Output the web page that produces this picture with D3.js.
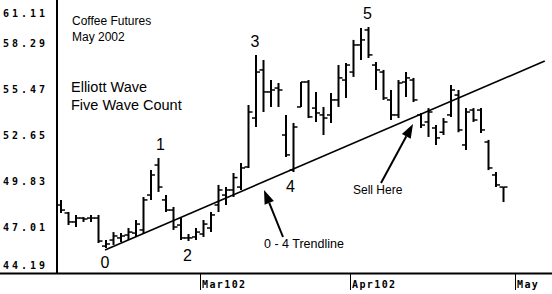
<!DOCTYPE html>
<meta charset="utf-8">
<style>
  body {
    margin: 0;
    background-color: white;
  }
  .price {
    font-family: 'DejaVu Sans Mono', monospace;
    font-weight: bold;
    font-size: 10px;
    letter-spacing: 3px;
  }
  .month {
    font-family: 'DejaVu Sans Mono', monospace;
    font-weight: bold;
    font-size: 10px;
    letter-spacing: 1.4px;
  }
  .note {
    font-family: 'Liberation Sans', Arial, sans-serif;
  }
</style>
<script src="https://cdn.jsdelivr.net/npm/d3@7"></script>
<body>
<div id="chart"></div>
<script>
  // daily bars, coffee futures (May 2002 contract), Feb 1 -> end of April 2002
  const opens = [48.39, 47.90, 47.35, 47.59, 47.59, 47.59, 45.87, 46.24, 46.37, 46.55,
                 46.67, 46.86, 49.00, 50.84, 48.70, 48.08, 47.16, 46.37, 46.43, 46.61,
                 46.98, 48.39, 49.00, 49.31, 49.49, 50.72, 53.72, 56.67, 55.32, 55.56,
                 52.68, 50.53, 54.40, 55.93, 54.33, 53.91, 53.91, 54.83, 56.05, 56.54,
                 58.20, 59.12, 56.97, 56.54, 54.83, 53.91, 55.93, 56.05, 53.91, 53.48,
                 53.11, 52.85, 53.91, 55.13, 52.07, 54.21, 54.21, 52.25, 50.23, 49.49];
  const highs = [48.70, 47.96, 47.78, 47.65, 47.78, 47.78, 46.24, 46.73, 46.67, 46.98,
                 47.47, 48.88, 50.53, 51.27, 49.00, 48.27, 47.59, 46.61, 46.98, 47.47,
                 47.96, 49.62, 49.49, 50.35, 50.96, 54.52, 57.59, 57.28, 56.05, 55.87,
                 53.91, 53.42, 55.93, 56.05, 55.32, 54.40, 55.26, 56.97, 57.09, 58.51,
                 59.24, 59.30, 57.16, 56.67, 55.44, 56.05, 56.54, 56.18, 54.03, 54.33,
                 53.29, 53.72, 55.75, 55.44, 54.33, 54.33, 54.33, 52.38, 50.41, 49.49];
  const lows = [47.90, 47.16, 47.04, 47.35, 47.35, 46.06, 45.75, 45.94, 46.12, 46.24,
                46.43, 46.67, 48.70, 49.19, 47.96, 46.86, 46.24, 46.18, 46.24, 46.43,
                46.73, 47.96, 48.39, 48.88, 49.31, 50.66, 53.17, 54.09, 54.40, 54.40,
                51.33, 50.41, 54.40, 53.72, 53.48, 52.68, 53.42, 54.40, 54.95, 56.24,
                57.28, 57.40, 55.44, 54.83, 53.60, 53.72, 55.01, 54.70, 53.11, 52.56,
                52.07, 52.68, 53.79, 52.85, 51.76, 53.48, 52.80, 50.53, 49.49, 48.57];
  const closes = [48.08, 47.35, 47.59, 47.53, 47.59, 46.18, 46.00, 46.49, 46.49, 46.73,
                  47.22, 48.70, 50.23, 49.49, 48.08, 47.04, 46.37, 46.37, 46.73, 47.22,
                  47.78, 49.31, 49.31, 50.07, 50.66, 54.09, 56.54, 55.32, 55.44, 55.44,
                  51.46, 53.17, 55.93, 53.79, 54.03, 53.72, 54.83, 56.18, 56.97, 58.20,
                  58.51, 57.59, 56.67, 54.95, 53.91, 55.87, 56.18, 54.83, 53.29, 54.09,
                  52.50, 53.48, 55.44, 52.99, 54.09, 53.60, 52.99, 50.66, 49.62, 49.49];

  const priceTicks = [44.19, 47.01, 49.83, 52.65, 55.47, 58.29, 61.11];
  const monthLabels = ["Mar102", "Apr102", "May"];
  const monthStarts = [19, 39, 61];   // bar index of first trading day of month

  const waveLabels = ["0", "1", "2", "3", "4", "5"];
  const waveBars = [6, 13, 17, 26, 31, 41];
  const waveAtLow = [true, false, true, false, true, false];

  // 0 - 4 trendline, in bar index / price
  const trendIdx = [5.87, 64.5];
  const trendPrice = [45.63, 57.22];

  var width = 552, height = 294;

  var svg = d3.select("#chart")
    .append("svg")
      .attr("width", width)
      .attr("height", height);

  var x = d3.scaleLinear().domain([0, opens.length - 1]).range([61, 503.5]);
  var y = d3.scaleLinear().domain([44.19, 61.11]).range([273.5, -2.5]);

  // axes lines
  svg.append("line")
    .attr("x1", 57).attr("x2", 57).attr("y1", 0).attr("y2", 274)
    .attr("stroke", "black").attr("stroke-width", 2);
  svg.append("line")
    .attr("x1", 0).attr("x2", width).attr("y1", 273.5).attr("y2", 273.5)
    .attr("stroke", "black").attr("stroke-width", 2);

  // price labels (top & bottom get pushed inside)
  svg.selectAll(".price")
    .data(priceTicks)
    .enter()
    .append("text")
      .attr("class", "price")
      .attr("x", 3)
      .attr("y", function(d){ return Math.min(Math.max(y(d), 13), 265); })
      .attr("dy", "0.36em")
      .text(function(d){ return d.toFixed(2); });

  // month ticks
  var months = svg.selectAll(".mtick")
    .data(monthStarts)
    .enter()
    .append("g")
      .attr("class", "mtick")
      .attr("transform", function(d){ return "translate(" + Math.round(x(d - 0.5)) + ",0)"; });
  months.append("line")
    .attr("x1", 0.5).attr("x2", 0.5).attr("y1", 274).attr("y2", 290)
    .attr("stroke", "black").attr("stroke-width", 1);
  months.append("text")
    .attr("class", "month")
    .attr("x", 2)
    .attr("y", 288)
    .text(function(d, i){ return monthLabels[i]; });

  // OHLC bars
  var bars = svg.selectAll(".bar")
    .data(opens.map(function(o, i){ return {i: i, o: o, h: highs[i], l: lows[i], c: closes[i]}; }))
    .enter()
    .append("g")
      .attr("class", "bar")
      .attr("stroke", "black");
  bars.append("line")
    .attr("x1", function(d){ return x(d.i); })
    .attr("x2", function(d){ return x(d.i); })
    .attr("y1", function(d){ return y(d.h); })
    .attr("y2", function(d){ return y(d.l); })
    .attr("stroke-width", 2);
  bars.append("line")
    .attr("x1", function(d){ return x(d.i) - 4; })
    .attr("x2", function(d){ return x(d.i); })
    .attr("y1", function(d){ return y(d.o); })
    .attr("y2", function(d){ return y(d.o); })
    .attr("stroke-width", 1.5);
  bars.append("line")
    .attr("x1", function(d){ return x(d.i); })
    .attr("x2", function(d){ return x(d.i) + 4; })
    .attr("y1", function(d){ return y(d.c); })
    .attr("y2", function(d){ return y(d.c); })
    .attr("stroke-width", 1.5);

  // trendline
  svg.append("line")
    .attr("x1", x(trendIdx[0])).attr("y1", y(trendPrice[0]))
    .attr("x2", x(trendIdx[1])).attr("y2", y(trendPrice[1]))
    .attr("stroke", "black").attr("stroke-width", 1.6);

  // wave count numbers
  var waveNudge = [0, 3, 0, 0, -2, 0];
  svg.selectAll(".wave")
    .data(waveBars)
    .enter()
    .append("text")
      .attr("class", "note wave")
      .attr("font-size", "16px")
      .attr("text-anchor", "middle")
      .attr("x", function(d, i){ return x(d) - 1 + waveNudge[i]; })
      .attr("y", function(d, i){ return waveAtLow[i] ? y(lows[d]) + 20 : y(highs[d]) - 8; })
      .text(function(d, i){ return waveLabels[i]; });

  // titles
  var notes = [
    {t: "Coffee Futures", x: 72, y: 25, s: 12},
    {t: "May 2002", x: 72, y: 41, s: 12},
    {t: "Elliott Wave", x: 71, y: 92, s: 14.5},
    {t: "Five Wave Count", x: 71, y: 110, s: 14.5},
    {t: "0 - 4 Trendline", x: 264, y: 248, s: 12.5},
    {t: "Sell Here", x: 353, y: 194, s: 12}
  ];
  svg.selectAll(".title")
    .data(notes)
    .enter()
    .append("text")
      .attr("class", "note title")
      .attr("x", function(d){ return d.x; })
      .attr("y", function(d){ return d.y; })
      .attr("font-size", function(d){ return d.s + "px"; })
      .text(function(d){ return d.t; });

  // arrows: tail -> tip
  var arrows = [
    {x1: 283, y1: 237, x2: 264, y2: 190},
    {x1: 381, y1: 183, x2: 413, y2: 124}
  ];
  arrows.forEach(function(a) {
    var ang = Math.atan2(a.y2 - a.y1, a.x2 - a.x1);
    var len = 14, hw = 5;
    var bx = a.x2 - len * Math.cos(ang), by = a.y2 - len * Math.sin(ang);
    svg.append("line")
      .attr("x1", a.x1).attr("y1", a.y1).attr("x2", bx).attr("y2", by)
      .attr("stroke", "black").attr("stroke-width", 2);
    svg.append("path")
      .attr("d", "M" + a.x2 + "," + a.y2 +
                 "L" + (bx + hw * Math.sin(ang)) + "," + (by - hw * Math.cos(ang)) +
                 "L" + (bx - hw * Math.sin(ang)) + "," + (by + hw * Math.cos(ang)) + "Z")
      .attr("fill", "black");
  });
</script>
</body>
